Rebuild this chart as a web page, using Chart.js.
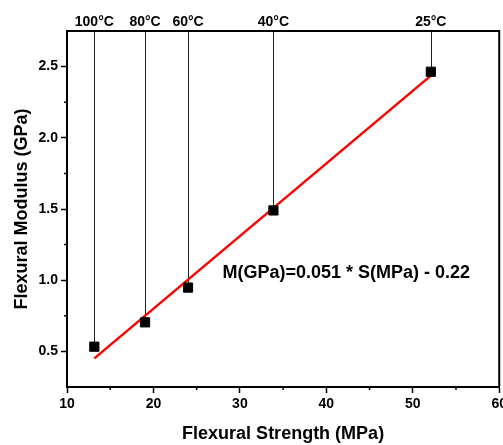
<!DOCTYPE html>
<html>
<head>
<meta charset="utf-8">
<script src="https://cdn.jsdelivr.net/npm/chart.js@4"></script>
<style>
  html, body { margin: 0; padding: 0; background: #fff; overflow: hidden; }
  canvas { display: block; }
</style>
</head>
<body>
<!-- a little wider than the window so the last x label runs off the right edge -->
<canvas id="modulus-chart" width="510" height="445"></canvas>
<script>
// Flexural strength vs modulus at each test temperature
const temperatures = ['100°C', '80°C', '60°C', '40°C', '25°C'];
const strengthMPa = [13.16, 19.03, 24.0, 33.88, 52.09];
const modulusGPa = [0.533, 0.704, 0.948, 1.49, 2.464];

// linear fit M = slope * S + intercept
const fitSlope = 0.051;
const fitIntercept = -0.22;
const fitLabel = 'M(GPa)=0.051 * S(MPa) - 0.22';

const xTicks = [10, 20, 30, 40, 50, 60];
const yTicks = [0.5, 1.0, 1.5, 2.0, 2.5];
const xMinor = [15, 25, 35, 45, 55];
const yMinor = [0.75, 1.25, 1.75, 2.25];

const FONT = '"Liberation Sans", Arial, sans-serif';

const points = strengthMPa.map((s, i) => ({ x: s, y: modulusGPa[i] }));
const sMin = Math.min(...strengthMPa);
const sMax = Math.max(...strengthMPa);
const fitLine = [sMin, sMax].map(s => ({ x: s, y: fitSlope * s + fitIntercept }));

const extras = {
  id: 'extras',
  beforeDatasetsDraw(chart) {
    const { ctx, chartArea, scales } = chart;
    ctx.save();
    // drop lines from the top frame down to each sample
    ctx.strokeStyle = '#222';
    ctx.lineWidth = 1;
    points.forEach(p => {
      const px = Math.round(scales.x.getPixelForValue(p.x)) + 0.5;
      const py = scales.y.getPixelForValue(p.y);
      ctx.beginPath();
      ctx.moveTo(px, chartArea.top);
      ctx.lineTo(px, py);
      ctx.stroke();
    });
    ctx.restore();
  },
  afterDraw(chart) {
    const { ctx, chartArea, scales } = chart;
    ctx.save();
    // top and right frame
    ctx.strokeStyle = '#000';
    ctx.lineWidth = 2;
    ctx.beginPath();
    ctx.moveTo(chartArea.left, chartArea.top);
    ctx.lineTo(chartArea.right, chartArea.top);
    ctx.lineTo(chartArea.right, chartArea.bottom);
    ctx.stroke();

    // minor ticks
    ctx.lineWidth = 1.5;
    ctx.beginPath();
    xMinor.forEach(v => {
      const px = scales.x.getPixelForValue(v);
      ctx.moveTo(px, chartArea.bottom);
      ctx.lineTo(px, chartArea.bottom + 3);
    });
    yMinor.forEach(v => {
      const py = scales.y.getPixelForValue(v);
      ctx.moveTo(chartArea.left, py);
      ctx.lineTo(chartArea.left - 3, py);
    });
    ctx.stroke();

    // temperature labels above the frame
    ctx.fillStyle = '#000';
    ctx.font = 'bold 14px ' + FONT;
    ctx.textAlign = 'center';
    ctx.textBaseline = 'middle';
    points.forEach((p, i) => {
      ctx.fillText(temperatures[i], scales.x.getPixelForValue(p.x), chartArea.top - 9);
    });

    // fit equation
    ctx.font = 'bold 18px ' + FONT;
    ctx.fillText(fitLabel, scales.x.getPixelForValue(42.3), scales.y.getPixelForValue(1.05));
    ctx.restore();
  }
};

new Chart(document.getElementById('modulus-chart'), {
  type: 'scatter',
  data: {
    datasets: [
      {
        label: 'Samples',
        data: points,
        pointStyle: 'rect',
        pointRadius: 6.5,
        pointBorderWidth: 1,
        backgroundColor: '#000',
        borderColor: '#000'
      },
      {
        label: 'Linear fit',
        type: 'line',
        data: fitLine,
        borderColor: '#ff0000',
        borderWidth: 2.5,
        pointRadius: 0,
        fill: false
      }
    ]
  },
  options: {
    responsive: false,
    animation: false,
    devicePixelRatio: 1,
    layout: { padding: { top: 31, right: 0, left: 0, bottom: 0 } },
    plugins: { legend: { display: false }, tooltip: { enabled: false } },
    scales: {
      x: {
        type: 'linear',
        min: 10,
        max: 60,
        afterBuildTicks: scale => { scale.ticks = xTicks.map(v => ({ value: v })); },
        afterFit: scale => { scale.height = 58; },
        grid: { display: true, drawOnChartArea: false, drawTicks: true, tickLength: 6, tickWidth: 1.5, tickColor: '#000' },
        border: { display: true, color: '#000', width: 2 },
        ticks: {
          color: '#000',
          padding: 3,
          maxRotation: 0,
          font: { family: FONT, size: 14, weight: 'bold' },
          callback: v => String(v)
        },
        title: {
          display: true,
          text: 'Flexural Strength (MPa)',
          color: '#000',
          padding: { top: 5, bottom: 0 },
          font: { family: FONT, size: 18, weight: 'bold' }
        }
      },
      y: {
        type: 'linear',
        min: 0.25,
        max: 2.75,
        afterBuildTicks: scale => { scale.ticks = yTicks.map(v => ({ value: v })); },
        afterFit: scale => { scale.width = 67; },
        grid: { display: true, drawOnChartArea: false, drawTicks: true, tickLength: 6, tickWidth: 1.5, tickColor: '#000' },
        border: { display: true, color: '#000', width: 2 },
        ticks: {
          color: '#000',
          padding: 3,
          font: { family: FONT, size: 14, weight: 'bold' },
          callback: v => v.toFixed(1)
        },
        title: {
          display: true,
          text: 'Flexural Modulus (GPa)',
          color: '#000',
          padding: { top: 11, bottom: 0 },
          font: { family: FONT, size: 18, weight: 'bold' }
        }
      }
    }
  },
  plugins: [extras]
});
</script>
</body>
</html>
